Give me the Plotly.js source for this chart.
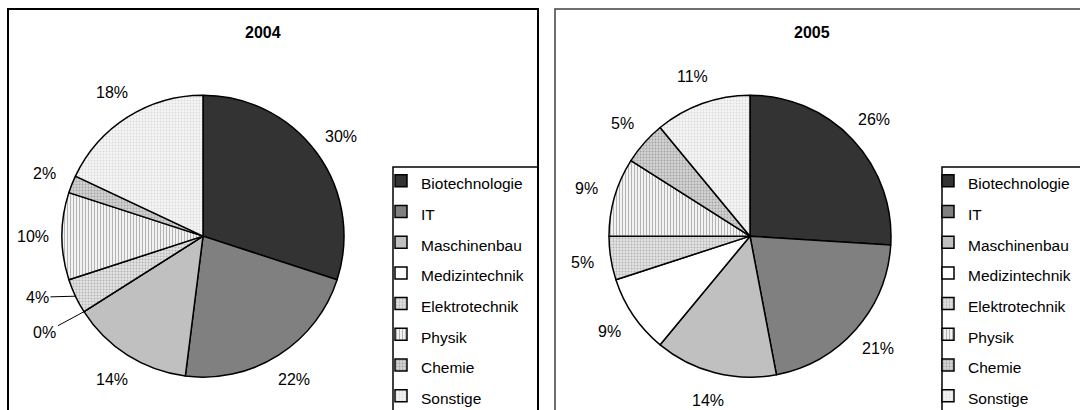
<!DOCTYPE html>
<html>
<head>
<meta charset="utf-8">
<script src="https://cdn.plot.ly/plotly-3.0.1.min.js"></script>
<style>html,body{margin:0;padding:0;background:#fff}#chart{width:1080px;height:410px}</style>
</head>
<body>
<div id="chart"></div>
<script>
const categories = ["Biotechnologie", "IT", "Maschinenbau", "Medizintechnik", "Elektrotechnik", "Physik", "Chemie", "Sonstige"];
const values2004 = [30, 22, 14, 0, 4, 10, 2, 18];
const values2005 = [26, 21, 14, 9, 5, 9, 5, 11];
const yearTitles = ["2004", "2005"];

// styling
const W = 1080, H = 410;
const FONT = "Liberation Sans, Arial, sans-serif";
const sliceColors = ["#333333", "#808080", "#c0c0c0", "#ffffff", "#dcdcdc", "#ffffff", "#cccccc", "#f2f2f2"];
const patShape = ["", "", "", "", ".", "|", ".", "."];
const patFg = ["#000", "#000", "#000", "#000", "#b4b4b4", "#b4b4b4", "#a4a4a4", "#dadada"];
const patBg = ["#333333", "#808080", "#c0c0c0", "#ffffff", "#e4e4e4", "#ffffff", "#d4d4d4", "#f6f6f6"];
const patSize = [4, 4, 4, 4, 3, 3, 3, 3];
const patSolid = [0.3, 0.3, 0.3, 0.3, 0.35, 0.45, 0.35, 0.3];
const domY = [0.080, 0.768];
const domX = [[62/1080, 344/1080], [609/1080, 891/1080]];
const labelRadiusFactor = 170 / 141;
// leader-line label offsets (px) for crowded small slices
const leaderOffsets = [
  {"Elektrotechnik": [-38, 1], "Medizintechnik": [-39, 21]},
  {}
];

function wrapLabel(c, k) {
  return '<span style="font-size:15.5px' + (k ? ';' : '') + '">' + c + '</span>';
}

function pie(vals, dx, legendId, k) {
  return {
    type: "pie",
    labels: categories.map(c => wrapLabel(c, k)),
    values: vals,
    sort: false,
    direction: "clockwise",
    rotation: 0,
    domain: {x: dx, y: domY},
    textinfo: "none",
    marker: {
      colors: sliceColors,
      line: {color: "#000", width: 1.5},
      pattern: {shape: patShape, fgcolor: patFg, bgcolor: patBg, size: patSize, solidity: patSolid, fillmode: "replace"}
    },
    legend: legendId,
    hoverinfo: "label+percent"
  };
}

const data = [
  pie(values2004, domX[0], "legend", 0),
  pie(values2005, domX[1], "legend2", 1)
];

const px = v => v / W;
const py = v => 1 - v / H;

function labelAnnotations(vals, dx, leaders) {
  const total = vals.reduce((a, b) => a + b, 0);
  const cx = (dx[0] + dx[1]) / 2 * W;
  const cy = H * (1 - (domY[0] + domY[1]) / 2);
  const r = Math.min((dx[1] - dx[0]) * W, (domY[1] - domY[0]) * H) / 2;
  const out = [];
  let cum = 0;
  vals.forEach((v, i) => {
    const mid = (cum + v / 2) / total * 2 * Math.PI;
    cum += v;
    const txt = Math.round(v / total * 100) + "%";
    const s = Math.sin(mid), c = Math.cos(mid);
    const lead = leaders[categories[i]];
    if (lead) {
      out.push({
        text: txt, xref: "paper", yref: "paper",
        x: px(cx + r * s), y: py(cy - r * c),
        ax: lead[0], ay: lead[1],
        showarrow: true, arrowhead: 0, arrowwidth: 1, arrowcolor: "#000", standoff: 0,
        font: {family: FONT, size: 16, color: "#000"}
      });
    } else {
      const rr = r * labelRadiusFactor;
      out.push({
        text: txt, xref: "paper", yref: "paper",
        x: px(cx + rr * s), y: py(cy - rr * c),
        xanchor: "center", yanchor: "middle",
        showarrow: false,
        font: {family: FONT, size: 16, color: "#000"}
      });
    }
  });
  return out;
}

const legendCommon = {
  bgcolor: "rgba(0,0,0,0)",
  borderwidth: 0,
  font: {family: FONT, size: 21.3, color: "#000"},
  xanchor: "left",
  yanchor: "top",
  traceorder: "normal"
};

const layout = {
  width: W,
  height: H,
  margin: {l: 0, r: 0, t: 0, b: 0, autoexpand: false},
  paper_bgcolor: "#ffffff",
  showlegend: true,
  legend: Object.assign({}, legendCommon, {x: px(381), y: py(160.5)}),
  legend2: Object.assign({}, legendCommon, {x: px(928), y: py(160.5)}),
  shapes: [
    {type: "rect", xref: "paper", yref: "paper", x0: px(8), x1: px(538), y0: py(430), y1: py(9), line: {color: "#000", width: 2}},
    {type: "rect", xref: "paper", yref: "paper", x0: px(393), x1: px(538), y0: py(430), y1: py(167), line: {color: "#000", width: 1.5}},
    {type: "rect", xref: "paper", yref: "paper", x0: px(555), x1: px(1100), y0: py(430), y1: py(9), line: {color: "#404040", width: 1.5}},
    {type: "rect", xref: "paper", yref: "paper", x0: px(942), x1: px(1100), y0: py(430), y1: py(167), line: {color: "#000", width: 1.5}}
  ],
  annotations: [
    {text: "<b>" + yearTitles[0] + "</b>", xref: "paper", yref: "paper", x: px(263), y: py(33), xanchor: "center", yanchor: "middle", showarrow: false, font: {family: FONT, size: 16, color: "#000"}},
    {text: "<b>" + yearTitles[1] + "</b>", xref: "paper", yref: "paper", x: px(812), y: py(33), xanchor: "center", yanchor: "middle", showarrow: false, font: {family: FONT, size: 16, color: "#000"}}
  ].concat(labelAnnotations(values2004, domX[0], leaderOffsets[0]))
   .concat(labelAnnotations(values2005, domX[1], leaderOffsets[1]))
};

Plotly.newPlot("chart", data, layout, {displayModeBar: false, staticPlot: true});
</script>
</body>
</html>
